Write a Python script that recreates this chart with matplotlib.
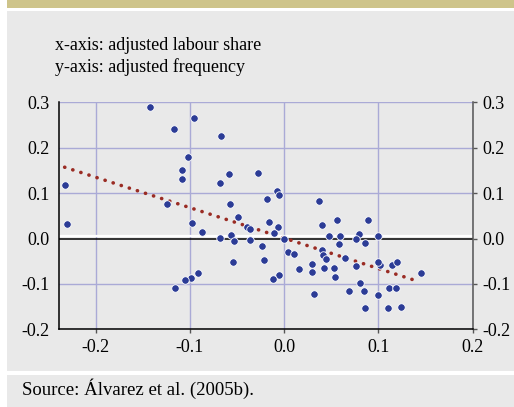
import numpy as np
import matplotlib
matplotlib.use("Agg")
import matplotlib.pyplot as plt
from matplotlib.patches import Rectangle
import matplotlib.transforms as mtransforms

plt.rcParams['font.family'] = ['Liberation Serif', 'DejaVu Serif']

# adjusted labour share (x) and adjusted frequency (y)
share = [-0.233, -0.230, -0.142, -0.117, -0.096, -0.067, -0.102, -0.109, -0.109, -0.068,
         -0.059, -0.028, -0.124, -0.058, -0.098, -0.087, -0.049, -0.068, -0.057, -0.053,
         -0.036, -0.040, -0.036, -0.018, -0.0075, -0.006, -0.016, -0.007, -0.011, -0.024,
         0.000, 0.004, 0.010, -0.054, -0.021, -0.006, -0.012, -0.091, -0.099, -0.105,
         -0.116, 0.016, 0.037, 0.040, 0.056, 0.089, 0.048, 0.059, 0.079, 0.076,
         0.058, 0.086, 0.099, 0.040, 0.041, 0.044, 0.064, 0.030, 0.076, 0.102,
         0.114, 0.120, 0.029, 0.042, 0.053, 0.054, 0.080, 0.069, 0.085, 0.111,
         0.119, 0.100, 0.032, 0.086, 0.110, 0.124, 0.145, 0.099]
freq = [0.117, 0.032, 0.289, 0.242, 0.265, 0.226, 0.180, 0.150, 0.132, 0.123,
        0.142, 0.144, 0.076, 0.076, 0.035, 0.015, 0.047, 0.002, 0.008, -0.006,
        -0.004, 0.026, 0.022, 0.087, 0.104, 0.096, 0.037, 0.025, 0.013, -0.016,
        0.000, -0.029, -0.035, -0.051, -0.048, -0.081, -0.090, -0.077, -0.087, -0.092,
        -0.110, -0.068, 0.082, 0.029, 0.040, 0.040, 0.006, 0.005, 0.009, -0.002,
        -0.012, -0.010, 0.006, -0.026, -0.037, -0.046, -0.044, -0.056, -0.060, -0.059,
        -0.059, -0.051, -0.073, -0.065, -0.065, -0.084, -0.098, -0.115, -0.115, -0.109,
        -0.110, -0.125, -0.123, -0.154, -0.152, -0.150, -0.077, -0.052]

# fitted line end points
fit_x = [-0.233, 0.143]
fit_y = [0.157, -0.095]

xticks = [-0.2, -0.1, 0.0, 0.1, 0.2]
yticks = [-0.2, -0.1, 0.0, 0.1, 0.2, 0.3]

W, H = 514, 407
fig = plt.figure(figsize=(W / 100, H / 100), dpi=100)
fig.patch.set_facecolor('white')

bg = '#e9e9e9'
# background panels
fig.patches.append(Rectangle((7 / W, 1 - 8 / H), 1, 8 / H, transform=fig.transFigure,
                             facecolor='#cec48a', edgecolor='none', zorder=-10))
fig.patches.append(Rectangle((7 / W, 1 - 371 / H), 1, 360 / H, transform=fig.transFigure,
                             facecolor=bg, edgecolor='none', zorder=-10))
fig.patches.append(Rectangle((7 / W, 0), 1, 32 / H, transform=fig.transFigure,
                             facecolor=bg, edgecolor='none', zorder=-10))

fig.text(55 / W, 1 - 45 / H, 'x-axis: adjusted labour share', fontsize=13, va='center', ha='left')
fig.text(55 / W, 1 - 67 / H, 'y-axis: adjusted frequency', fontsize=13, va='center', ha='left')
fig.text(22 / W, 1 - 389 / H, 'Source: \u00c1lvarez et al. (2005b).', fontsize=13.5, va='center', ha='left')

ax = fig.add_axes([59 / W, 1 - 329.3 / H, (472.7 - 59) / W, 227 / H])
ax.set_facecolor(bg)
ax.set_xlim(-0.239, 0.2)
ax.set_ylim(-0.2, 0.3)

grid_c = '#aaaad6'
for xv in xticks:
    ax.axvline(xv, color=grid_c, lw=1.0, zorder=1)
for yv in yticks:
    if yv != 0.0:
        ax.axhline(yv, color=grid_c, lw=1.0, zorder=1)

# zero line with white halo above
up = mtransforms.offset_copy(ax.get_yaxis_transform(), fig=fig, y=1.6, units='points')
ax.plot([0, 1], [0, 0], color='white', lw=1.6, transform=up, zorder=2)
ax.axhline(0, color='black', lw=1.1, zorder=2)

ax.plot(fit_x, fit_y, color='#9a2c24', lw=2.6, linestyle=(0, (0.05, 2.3)),
        dash_capstyle='round', zorder=3)
ax.plot(share, freq, 'o', color='#2c3c96', markersize=5.4, markeredgecolor='white',
        markeredgewidth=0.6, zorder=4)

ax.spines['top'].set_visible(False)
ax.spines['left'].set_color('black')
ax.spines['bottom'].set_color('black')
ax.spines['right'].set_color('#555555')
for s in ['left', 'bottom', 'right']:
    ax.spines[s].set_linewidth(1.1)

ax.set_xticks(xticks)
ax.set_xticklabels(['%.1f' % v for v in xticks])
ax.set_yticks(yticks)
ax.set_yticklabels(['%.1f' % v for v in yticks])
ax.tick_params(axis='x', direction='out', length=3, width=1, color='#555555',
               labelsize=13, pad=4)
ax.tick_params(axis='y', direction='out', length=3, width=1, color='#555555',
               labelsize=13, pad=4, left=False, right=True,
               labelleft=True, labelright=True)

fig.savefig('out.png', dpi=100, facecolor='white')
